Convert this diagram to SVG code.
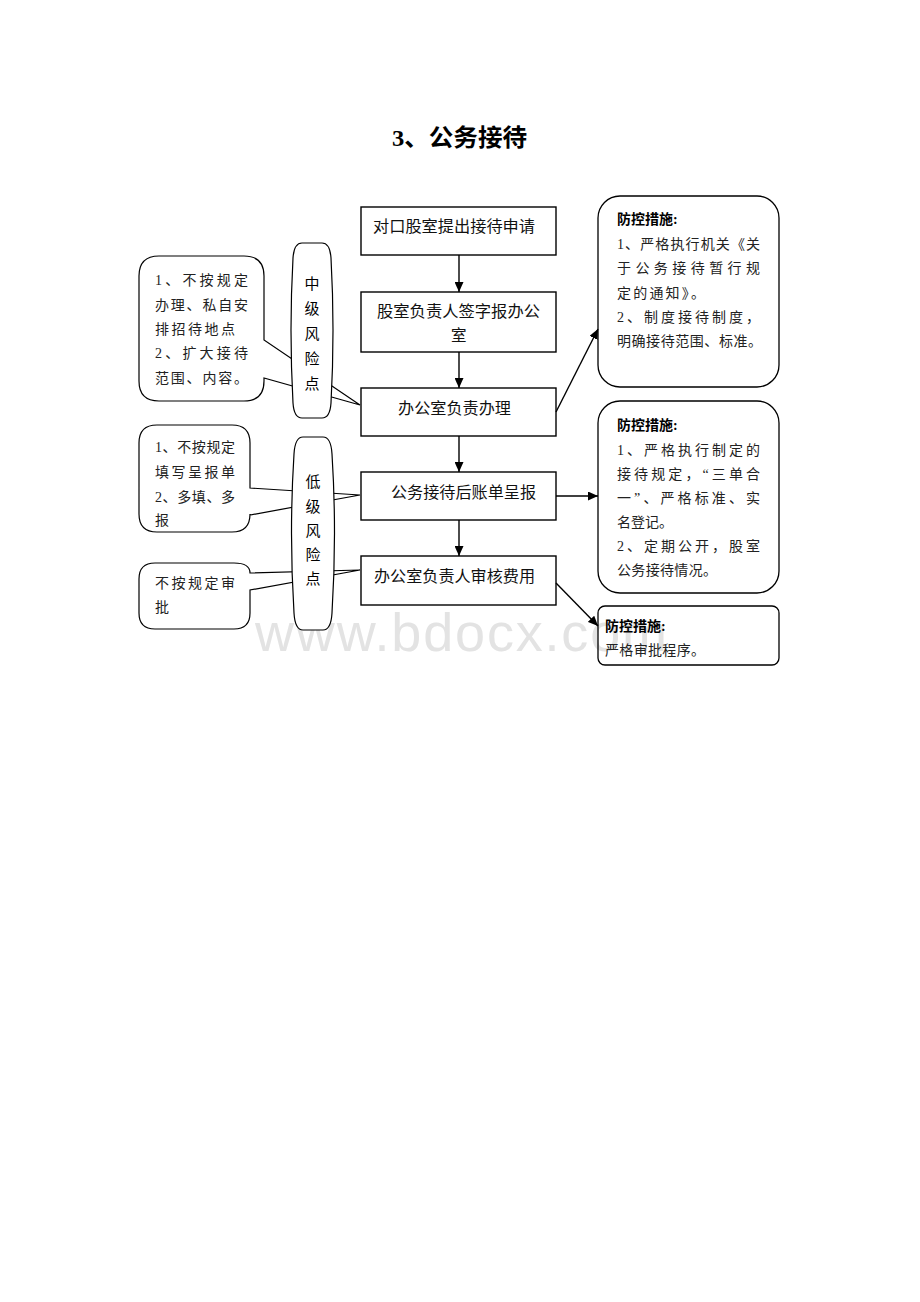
<svg xmlns="http://www.w3.org/2000/svg" width="920" height="1302" viewBox="0 0 920 1302">
<style>
.bg{fill:#fff}
.box{fill:#fff;stroke:#000;stroke-width:1.4}
.rbox{fill:none;stroke:#000;stroke-width:1.3}
.shape{fill:#fff;stroke:#000;stroke-width:1.2}
.t{font-family:"Liberation Serif","Noto Sans CJK SC",serif;fill:#111}
.m{font-size:15.5px}
.s{font-size:14px;fill:#222}
.b{font-weight:bold;fill:#000}
.v{font-size:15px;text-anchor:middle;fill:#000}
.title{font-size:24px;font-weight:bold;fill:#000}
.wm{font-family:"Liberation Sans",Arial,sans-serif;font-size:54px;fill:#e3e3e3}
.ln{stroke:#000;stroke-width:1.4;fill:none}
</style>
<defs>
<marker id="ah" markerWidth="10" markerHeight="9" refX="10" refY="4.5" orient="auto" markerUnits="userSpaceOnUse">
<path d="M0,0 L10,4.5 L0,9 Z" fill="#000"/>
</marker>
</defs>
<rect class="bg" x="0" y="0" width="920" height="1302"/>
<text class="wm" x="255" y="651" textLength="412" lengthAdjust="spacing">www.bdocx.com</text>
<text class="t title" x="392" y="146" textLength="135" lengthAdjust="spacingAndGlyphs">3、公务接待</text>

<g id="callout1">
<path class="shape" d="M159 256 L244 256 Q264 256 264 276 L264 340 L360 405 L264 378 L264 381 Q264 401 244 401 L159 401 Q139 401 139 381 L139 276 Q139 256 159 256 Z"/>
<text class="t s" x="155" y="285" textLength="93" lengthAdjust="spacing">1、不按规定</text>
<text class="t s" x="155" y="310" textLength="93" lengthAdjust="spacing">办理、私自安</text>
<text class="t s" x="155" y="334" textLength="80" lengthAdjust="spacing">排招待地点</text>
<text class="t s" x="155" y="358" textLength="93" lengthAdjust="spacing">2、扩大接待</text>
<text class="t s" x="155" y="383" textLength="93" lengthAdjust="spacing">范围、内容。</text>
</g>
<g id="callout2">
<path class="shape" d="M157 425 L232 425 Q250 425 250 443 L250 488 L360 495 L250 515 L250 514 Q250 532 232 532 L157 532 Q139 532 139 514 L139 443 Q139 425 157 425 Z"/>
<text class="t s" x="155" y="452" textLength="80" lengthAdjust="spacing">1、不按规定</text>
<text class="t s" x="155" y="477" textLength="80" lengthAdjust="spacing">填写呈报单</text>
<text class="t s" x="155" y="502" textLength="80" lengthAdjust="spacing">2、多填、多</text>
<text class="t s" x="155" y="525">报</text>
</g>
<g id="callout3">
<path class="shape" d="M155 563 L234 563 Q250 563 250 573 L360 570 L250 590 L250 613 Q250 629 234 629 L155 629 Q139 629 139 613 L139 579 Q139 563 155 563 Z"/>
<text class="t s" x="155" y="588" textLength="80" lengthAdjust="spacing">不按规定审</text>
<text class="t s" x="155" y="612">批</text>
</g>

<g id="risk-mid">
<path class="shape" d="M302 243 L322 243 Q330 243 331 258 Q335 330 331 403 Q330 418 322 418 L302 418 Q294 418 293 403 Q289 330 293 258 Q294 243 302 243 Z"/>
<text class="t v" x="312" y="289">中</text>
<text class="t v" x="312" y="314">级</text>
<text class="t v" x="312" y="339">风</text>
<text class="t v" x="312" y="364">险</text>
<text class="t v" x="312" y="389">点</text>
</g>
<g id="risk-low">
<path class="shape" d="M303 437 L323 437 Q331 437 332 454 Q337 533 332 613 Q331 630 323 630 L303 630 Q295 630 294 613 Q289 533 294 454 Q295 437 303 437 Z"/>
<text class="t v" x="313" y="487">低</text>
<text class="t v" x="313" y="512">级</text>
<text class="t v" x="313" y="536">风</text>
<text class="t v" x="313" y="560">险</text>
<text class="t v" x="313" y="584">点</text>
</g>

<g id="n1">
<rect class="box" x="361" y="207" width="195" height="48"/>
<text class="t m" x="373" y="232" textLength="162" lengthAdjust="spacingAndGlyphs">对口股室提出接待申请</text>
</g>
<g id="n2">
<rect class="box" x="361" y="292" width="195" height="60"/>
<text class="t m" x="377" y="317" textLength="163" lengthAdjust="spacingAndGlyphs">股室负责人签字报办公</text>
<text class="t m" x="451" y="341">室</text>
</g>
<g id="n3">
<rect class="box" x="361" y="388" width="195" height="48"/>
<text class="t m" x="398" y="414" textLength="113" lengthAdjust="spacingAndGlyphs">办公室负责办理</text>
</g>
<g id="n4">
<rect class="box" x="361" y="472" width="195" height="48"/>
<text class="t m" x="391" y="498" textLength="145" lengthAdjust="spacingAndGlyphs">公务接待后账单呈报</text>
</g>
<g id="n5">
<rect class="box" x="361" y="556" width="195" height="49"/>
<text class="t m" x="374" y="582" textLength="161" lengthAdjust="spacingAndGlyphs">办公室负责人审核费用</text>
</g>

<g id="r1">
<rect class="rbox" x="598" y="196" width="181" height="191" rx="22" ry="22"/>
<text class="t s b" x="617" y="224">防控措施:</text>
<text class="t s" x="617" y="249" textLength="143" lengthAdjust="spacing">1、严格执行机关《关</text>
<text class="t s" x="617" y="273" textLength="143" lengthAdjust="spacing">于公务接待暂行规</text>
<text class="t s" x="617" y="298" textLength="88" lengthAdjust="spacing">定的通知》。</text>
<text class="t s" x="617" y="322" textLength="143" lengthAdjust="spacing">2、制度接待制度，</text>
<text class="t s" x="617" y="346" textLength="145" lengthAdjust="spacing">明确接待范围、标准。</text>
</g>
<g id="r2">
<rect class="rbox" x="598" y="401" width="181" height="192" rx="22" ry="22"/>
<text class="t s b" x="617" y="430">防控措施:</text>
<text class="t s" x="617" y="455" textLength="143" lengthAdjust="spacing">1、严格执行制定的</text>
<text class="t s" x="617" y="479" textLength="143" lengthAdjust="spacing">接待规定，“三单合</text>
<text class="t s" x="617" y="503" textLength="143" lengthAdjust="spacing">一”、严格标准、实</text>
<text class="t s" x="617" y="527">名登记。</text>
<text class="t s" x="617" y="551" textLength="143" lengthAdjust="spacing">2、定期公开，股室</text>
<text class="t s" x="617" y="575" textLength="100" lengthAdjust="spacing">公务接待情况。</text>
</g>
<g id="r3">
<rect class="rbox" x="598" y="606" width="181" height="59" rx="7" ry="7"/>
<text class="t s b" x="605" y="631">防控措施:</text>
<text class="t s" x="605" y="655" textLength="100" lengthAdjust="spacing">严格审批程序。</text>
</g>

<g id="connectors">
<line class="ln" x1="459" y1="255" x2="459" y2="292" marker-end="url(#ah)"/>
<line class="ln" x1="459" y1="352" x2="459" y2="388" marker-end="url(#ah)"/>
<line class="ln" x1="459" y1="436" x2="459" y2="472" marker-end="url(#ah)"/>
<line class="ln" x1="459" y1="520" x2="459" y2="556" marker-end="url(#ah)"/>
<line class="ln" x1="556" y1="412" x2="598" y2="329" marker-end="url(#ah)"/>
<line class="ln" x1="556" y1="496" x2="598" y2="496" marker-end="url(#ah)"/>
<line class="ln" x1="556" y1="583" x2="598" y2="626" marker-end="url(#ah)"/>
</g>
</svg>
